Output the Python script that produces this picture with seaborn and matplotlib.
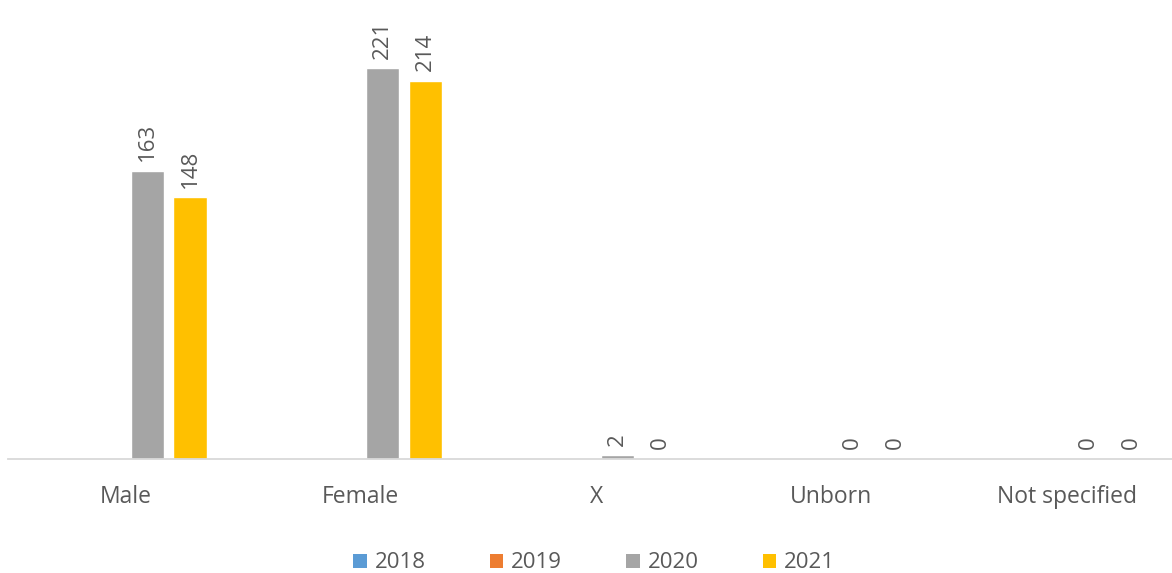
import numpy as np
import pandas as pd
import seaborn as sns
import matplotlib.pyplot as plt
from matplotlib.patches import Patch

categories = ['Male', 'Female', 'X', 'Unborn', 'Not specified']
years = ['2018', '2019', '2020', '2021']
vals2018 = [np.nan, np.nan, np.nan, np.nan, np.nan]
vals2019 = [np.nan, np.nan, np.nan, np.nan, np.nan]
vals2020 = [163, 221, 2, 0, 0]
vals2021 = [148, 214, 0, 0, 0]
colors = ['#5B9BD5', '#ED7D31', '#A5A5A5', '#FFC000']

# long format for seaborn
rows = []
for yr, vals in zip(years, [vals2018, vals2019, vals2020, vals2021]):
    for cat, v in zip(categories, vals):
        rows.append({'Category': cat, 'Year': yr, 'Count': v})
df = pd.DataFrame(rows).dropna()

sns.set_style('white')
plt.rcParams['font.family'] = ['Open Sans', 'DejaVu Sans']
txt = '#595959'

fig = plt.figure(figsize=(11.72, 5.73), dpi=100)
ax = fig.add_axes([8 / 1172, 1 - 459 / 573, 1164 / 1172, 442 / 573])

sns.barplot(data=df, x='Category', y='Count', hue='Year', order=categories,
            hue_order=years, palette=dict(zip(years, colors)),
            width=0.73, gap=0.23, errorbar=None, legend=False, ax=ax,
            saturation=1)

for cont in ax.containers:
    ax.bar_label(cont, fmt='%d', rotation=90, padding=7, fontsize=16, color=txt)

ax.set_ylim(0, 250)
ax.set_xlim(-0.5, -0.5 + 1164 / 235.25)
ax.set_xlabel('')
ax.set_ylabel('')
ax.set_yticks([])
ax.tick_params(axis='x', length=0, pad=19, labelsize=16.5, labelcolor=txt)
for s in ['top', 'left', 'right']:
    ax.spines[s].set_visible(False)
ax.spines['bottom'].set_color('#D9D9D9')
ax.spines['bottom'].set_linewidth(1.3)

handles = [Patch(facecolor=c, edgecolor='none') for c in colors]
leg = fig.legend(handles, years, loc='center', bbox_to_anchor=(0.507, 1 - 563 / 573),
                 ncol=4, frameon=False, fontsize=16, handlelength=0.6,
                 handleheight=0.6, handletextpad=0.35, columnspacing=2.9)
for t in leg.get_texts():
    t.set_color(txt)

fig.savefig('out.png', dpi=100)
